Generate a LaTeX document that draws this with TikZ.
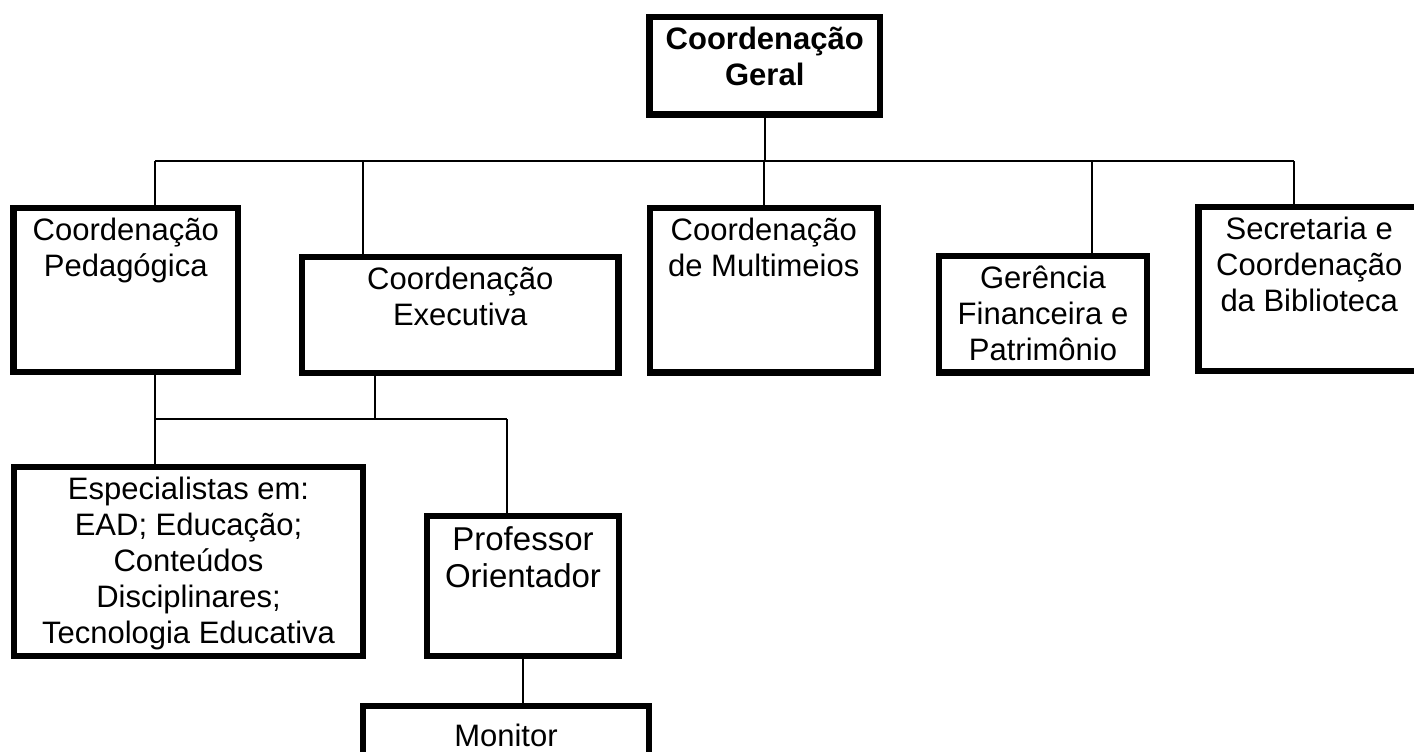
\documentclass[tikz,border=0pt]{standalone}
\usepackage{fontspec}
\setmainfont{Liberation Sans}
\usetikzlibrary{positioning}

\newcommand{\orgfont}{\fontsize{15.5pt}{18pt}\selectfont}

\begin{document}
\begin{tikzpicture}[
  x=0.5pt, y=-0.5pt,
  box/.style 2 args={draw, line width=3.2pt, outer sep=0pt, inner sep=0pt, anchor=north west, minimum width=#1, minimum height=#2},
  txt/.style={anchor=north, align=center, inner sep=0pt, yshift=-5pt, font=\orgfont, execute at begin node={\rule{0pt}{15pt}}},
  link/.style={line width=1pt}
]
  \useasboundingbox (0,0) rectangle (1414,751);

  % top level
  \node[box={115.25pt}{48.75pt}, label={[txt, font=\orgfont\bfseries]north:Coordenação\\Geral}] (geral) at (649.5,17) {};

  % second level
  \node[box={112.25pt}{82pt}, label={[txt]north:Coordenação\\Pedagógica}] (ped) at (13.5,208) {};
  \node[box={158.25pt}{58pt}, label={[txt]north:Coordenação\\Executiva}] (exe) at (302,257) {};
  \node[box={113.75pt}{82.25pt}, label={[txt]north:Coordenação\\de Multimeios}] (mul) at (650,208) {};
  \node[box={104pt}{58.25pt}, label={[txt]north:Gerência\\Financeira e\\Patrimônio}] (ger) at (939,256) {};
  \node[box={110.75pt}{82pt}, label={[txt]north:Secretaria e\\Coordenação\\da Biblioteca}] (sec) at (1198.5,207) {};

  % third level
  \node[box={174.5pt}{94.5pt}, label={[txt]north:Especialistas em:\\EAD; Educação;\\Conteúdos\\Disciplinares;\\Tecnologia Educativa}] (esp) at (14,467) {};
  \node[box={96pt}{70pt}, label={[txt, font=\fontsize{16.5pt}{18.5pt}\selectfont]north:Professor\\Orientador}] (prof) at (427,516) {};
  \node[box={143pt}{40pt}, label={[txt]north:Monitor}] (mon) at (363,706) {};

  % bus lines
  \coordinate (bus1) at (155,161);
  \coordinate (bus2) at (363,161);
  \coordinate (bus3) at (764,161);
  \coordinate (bus4) at (1092,161);
  \coordinate (bus5) at (1294,161);
  \coordinate (sub1) at (155,419);
  \coordinate (sub2) at (375,419);
  \coordinate (sub3) at (507,419);

  \draw[link] (geral.south) -- (geral.south |- bus1);
  \draw[link] (bus1) -- (bus5);
  \draw[link] (bus1) -- (bus1 |- ped.north);
  \draw[link] (bus2) -- (bus2 |- exe.north);
  \draw[link] (bus3) -- (bus3 |- mul.north);
  \draw[link] (bus4) -- (bus4 |- ger.north);
  \draw[link] (bus5) -- (bus5 |- sec.north);

  \draw[link] (sub1 |- ped.south) -- (sub1);
  \draw[link] (sub2 |- exe.south) -- (sub2);
  \draw[link] (sub1) -- (sub3);
  \draw[link] (sub1) -- (sub1 |- esp.north);
  \draw[link] (sub3) -- (sub3 |- prof.north);
  \draw[link] (prof.south) -- (prof.south |- mon.north);
\end{tikzpicture}
\end{document}
